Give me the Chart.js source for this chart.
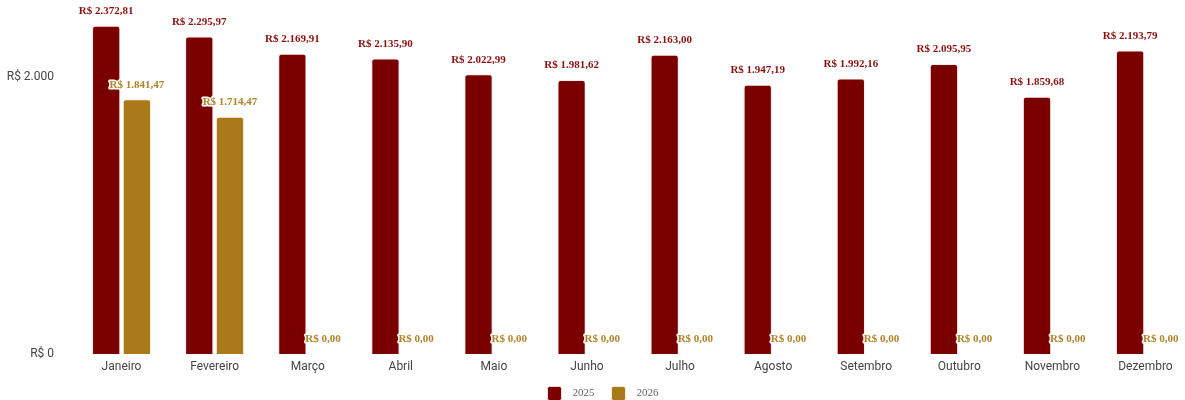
<!DOCTYPE html>
<html>
<head>
<meta charset="utf-8">
<script src="https://cdn.jsdelivr.net/npm/chart.js@4.4.1/dist/chart.umd.min.js"></script>
<style>
  html, body { margin: 0; padding: 0; background: #fff; overflow: hidden; }
  #wrap { width: 1195px; height: 400px; }
</style>
</head>
<body>
<div id="wrap"><canvas id="c" width="1195" height="400"></canvas></div>
<script>
const months = ['Janeiro', 'Fevereiro', 'Março', 'Abril', 'Maio', 'Junho', 'Julho', 'Agosto', 'Setembro', 'Outubro', 'Novembro', 'Dezembro'];
const values2025 = [2372.81, 2295.97, 2169.91, 2135.90, 2022.99, 1981.62, 2163.00, 1947.19, 1992.16, 2095.95, 1859.68, 2193.79];
const values2026 = [1841.47, 1714.47, 0, 0, 0, 0, 0, 0, 0, 0, 0, 0];
const yTicks = [0, 2000];

const fmtBRL = v => 'R$ ' + v.toLocaleString('pt-BR', { minimumFractionDigits: 2, maximumFractionDigits: 2 });
const fmtAxis = v => 'R$ ' + v.toLocaleString('pt-BR', { maximumFractionDigits: 0 });

// Value labels above each bar, with a white halo
const valueLabels = {
  id: 'valueLabels',
  afterDatasetsDraw(chart) {
    const ctx = chart.ctx;
    ctx.save();
    ctx.font = 'bold 11px "Liberation Serif", "Times New Roman", serif';
    ctx.textAlign = 'center';
    ctx.textBaseline = 'middle';
    ctx.lineJoin = 'round';
    chart.data.datasets.forEach((ds, di) => {
      const meta = chart.getDatasetMeta(di);
      meta.data.forEach((bar, i) => {
        const text = fmtBRL(ds.data[i]);
        const y = bar.y - 14.5;
        ctx.lineWidth = 3;
        ctx.strokeStyle = '#ffffff';
        ctx.strokeText(text, bar.x, y);
        ctx.fillStyle = ds.labelColor;
        ctx.fillText(text, bar.x, y);
      });
    });
    ctx.restore();
  }
};

// Nudge the legend row slightly to the right
const legendShift = {
  id: 'legendShift',
  afterLayout(chart) {
    if (chart.legend) {
      chart.legend.left += 7;
      chart.legend.right += 7;
    }
  }
};

new Chart(document.getElementById('c'), {
  type: 'bar',
  data: {
    labels: months,
    datasets: [
      {
        label: '2025',
        data: values2025,
        backgroundColor: '#7a0000',
        borderColor: 'rgba(255,230,230,0.9)',
        borderWidth: 1,
        borderRadius: { topLeft: 3, topRight: 3 },
        borderSkipped: 'bottom',
        labelColor: '#8a1010',
        barPercentage: 0.92,
        categoryPercentage: 0.66
      },
      {
        label: '2026',
        data: values2026,
        backgroundColor: '#aa7a1a',
        borderColor: 'rgba(255,240,220,0.9)',
        borderWidth: 1,
        borderRadius: { topLeft: 3, topRight: 3 },
        borderSkipped: 'bottom',
        labelColor: '#b0832a',
        barPercentage: 0.92,
        categoryPercentage: 0.66
      }
    ]
  },
  options: {
    responsive: false,
    animation: false,
    layout: { padding: { top: 22, right: 3, left: 0, bottom: -10.5 } },
    plugins: {
      legend: {
        position: 'bottom',
        labels: {
          boxWidth: 14,
          boxHeight: 14,
          useBorderRadius: true,
          borderRadius: 2,
          padding: 6,
          color: '#666',
          font: { family: '"Liberation Serif", "Times New Roman", serif', size: 11 },
          generateLabels(chart) {
            const items = Chart.defaults.plugins.legend.labels.generateLabels(chart);
            items.forEach((it, i) => {
              it.text = '  ' + it.text + (i < items.length - 1 ? '    ' : '');
            });
            return items;
          }
        }
      },
      tooltip: { enabled: false }
    },
    scales: {
      x: {
        grid: { display: false, drawTicks: false },
        border: { display: false },
        ticks: {
          color: '#444',
          padding: 6,
          font: { family: 'Roboto, sans-serif', size: 12 }
        }
      },
      y: {
        min: 0,
        max: 2400,
        grid: { display: false, drawTicks: false },
        border: { display: false },
        afterBuildTicks(scale) { scale.ticks = yTicks.map(v => ({ value: v })); },
        afterFit(scale) {
          scale.width = 75;
          scale.paddingTop = 8;
          scale.paddingBottom = 8;
        },
        ticks: {
          color: '#444',
          padding: 21,
          font: { family: 'Roboto, sans-serif', size: 12 },
          callback: v => fmtAxis(v)
        }
      }
    }
  },
  plugins: [valueLabels, legendShift]
});
</script>
</body>
</html>
